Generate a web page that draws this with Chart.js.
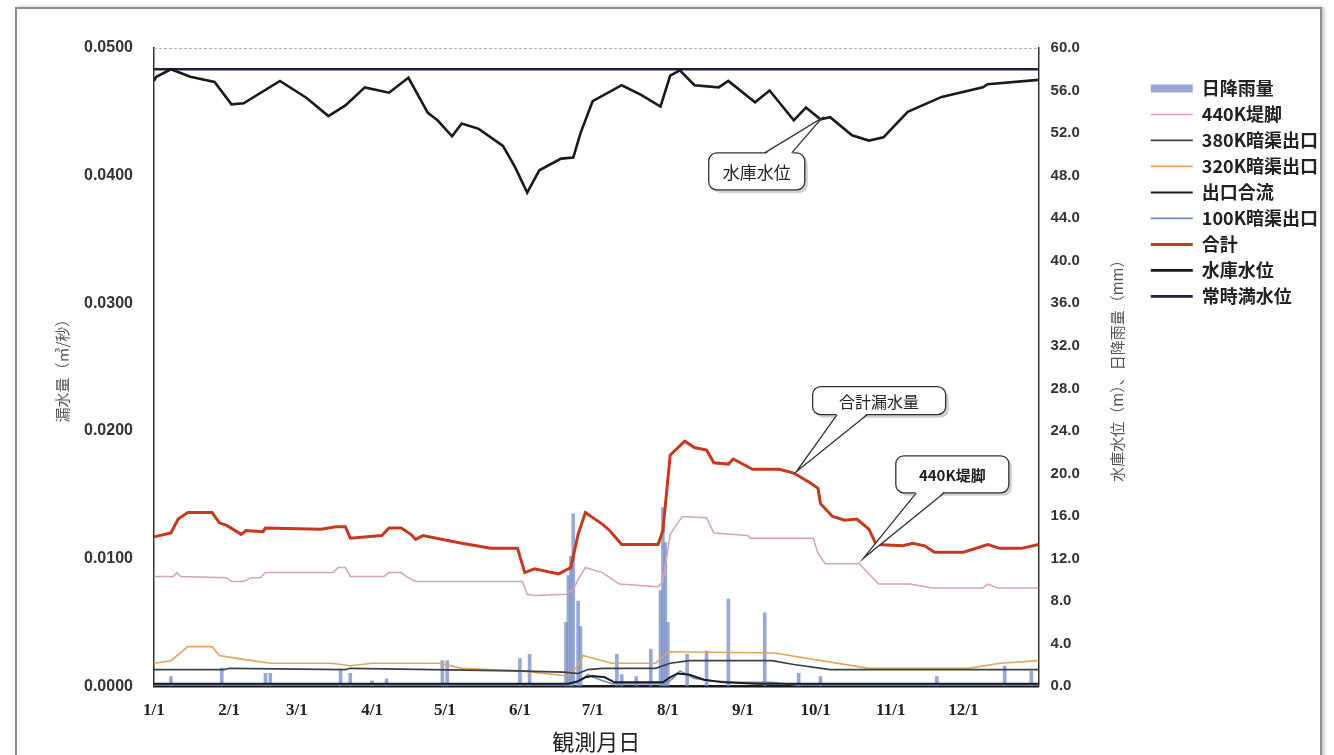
<!DOCTYPE html>
<html>
<head>
<meta charset="utf-8">
<script src="https://cdn.jsdelivr.net/npm/chart.js@4.4.1/dist/chart.umd.min.js"></script>
<style>
html, body { margin: 0; padding: 0; background: #fff; }
#frame { position: absolute; left: 15px; top: 7px; width: 1303px; height: 800px; border: 2px solid #8c8c8c; background: #fff; box-shadow: 2px 0 4px #bbb; }
#wrap { position: absolute; left: 0; top: 0; width: 1334px; height: 755px; }
</style>
</head>
<body>
<div id="frame"></div>
<div id="wrap"><canvas id="chart"></canvas></div>
<script>
// x axis: day of year, ticks at the first of each month
var monthDays = [1, 32, 60, 91, 121, 152, 182, 213, 244, 274, 305, 335];
var monthLabels = ['1/1', '2/1', '3/1', '4/1', '5/1', '6/1', '7/1', '8/1', '9/1', '10/1', '11/1', '12/1'];

// daily rainfall (mm, right axis)
var rainDays = [8, 29, 47, 49, 78, 82, 91, 97, 120, 122, 152, 156, 171, 172, 173, 174, 176, 177, 192, 194, 200, 206, 210, 211, 212, 213, 221, 229, 238, 253, 267, 276, 324, 352, 363];
var rainMm = [0.9, 1.7, 1.2, 1.2, 1.6, 1.2, 0.5, 0.7, 2.4, 2.4, 2.6, 3.0, 6.0, 10.4, 12.2, 16.2, 8.0, 5.6, 3.0, 1.1, 0.9, 3.5, 9.0, 16.8, 13.5, 6.0, 3.0, 3.3, 8.2, 6.9, 1.2, 0.9, 0.9, 1.9, 1.4];

// reservoir level (m, right axis)
var levelDays = [1, 2, 8, 16, 26, 33, 38, 53, 64, 73, 80, 88, 98, 106, 114, 118, 124, 128, 135, 145, 150, 155, 160, 169, 174, 177, 182, 194, 202, 210, 214, 218, 224, 234, 238, 249, 255, 265, 270, 276, 280, 289, 296, 302, 312, 326, 343, 345, 366];
var levelM = [56.9, 57.3, 58.0, 57.3, 56.8, 54.7, 54.8, 56.9, 55.3, 53.6, 54.6, 56.3, 55.8, 57.2, 53.9, 53.2, 51.7, 52.9, 52.4, 50.8, 48.8, 46.4, 48.5, 49.6, 49.7, 52.0, 55.0, 56.5, 55.6, 54.5, 57.4, 57.9, 56.5, 56.3, 56.9, 54.9, 56.0, 53.2, 54.4, 53.3, 53.5, 51.8, 51.3, 51.6, 54.0, 55.4, 56.3, 56.6, 57.0];

var fullDays = [1, 366];
var fullM = [58.0, 58.0];

// leakage (m3/s, left axis)
var totalDays = [1, 8, 11, 15, 25, 28, 31, 37, 39, 46, 47, 70, 76, 80, 82, 95, 98, 103, 107, 109, 112, 128, 140, 151, 154, 158, 168, 173, 176, 179, 186, 189, 194, 209, 211, 214, 220, 224, 229, 232, 238, 240, 248, 259, 265, 272, 275, 276, 281, 286, 291, 296, 299, 310, 314, 319, 323, 335, 345, 350, 359, 366];
var totalQ = [0.0117, 0.0120, 0.0131, 0.0136, 0.0136, 0.0128, 0.0126, 0.0119, 0.0122, 0.0121, 0.0124, 0.0123, 0.0125, 0.0125, 0.0116, 0.0118, 0.0124, 0.0124, 0.0119, 0.0115, 0.0118, 0.0112, 0.0108, 0.0108, 0.0089, 0.0092, 0.0088, 0.0093, 0.0119, 0.0136, 0.0127, 0.0122, 0.0111, 0.0111, 0.0122, 0.0181, 0.0192, 0.0187, 0.0185, 0.0175, 0.0174, 0.0178, 0.0170, 0.0170, 0.0167, 0.0159, 0.0155, 0.0143, 0.0133, 0.0130, 0.0131, 0.0123, 0.0111, 0.0110, 0.0112, 0.0110, 0.0105, 0.0105, 0.0111, 0.0108, 0.0108, 0.0111];

var toeDays = [1, 9, 10.5, 12, 31, 33, 38, 41, 45, 47, 75, 77, 80, 82, 96, 98, 103, 105, 109, 153, 155, 158, 171, 174, 176.5, 179, 186, 193, 209, 211, 214, 219, 229, 232, 246, 247, 273, 275, 278, 292, 300, 313, 322, 343, 345, 349, 366];
var toeQ = [0.0086, 0.0086, 0.0089, 0.0086, 0.0085, 0.0082, 0.0082, 0.0085, 0.0085, 0.0089, 0.0089, 0.0093, 0.0093, 0.0086, 0.0086, 0.0089, 0.0089, 0.0086, 0.0082, 0.0082, 0.0072, 0.0071, 0.0072, 0.0076, 0.0085, 0.0093, 0.0089, 0.0080, 0.0078, 0.0082, 0.0119, 0.0133, 0.0132, 0.0120, 0.0118, 0.0116, 0.0116, 0.0104, 0.0096, 0.0096, 0.0080, 0.0080, 0.0077, 0.0077, 0.0080, 0.0077, 0.0077];

var d380Days = [1, 30, 32, 80, 82, 150, 170, 176, 180, 186, 208, 214, 222, 256, 265, 280, 366];
var d380Q = [0.0013, 0.0013, 0.0014, 0.0013, 0.0014, 0.0012, 0.0011, 0.0010, 0.0013, 0.0014, 0.0014, 0.0018, 0.0020, 0.0020, 0.0017, 0.0013, 0.0013];

var d320Days = [1, 8, 15, 25, 28, 38, 49, 74, 82, 91, 119, 128, 152, 172, 176, 178, 186, 190, 208, 213, 257, 296, 337, 350, 366];
var d320Q = [0.0018, 0.0020, 0.0031, 0.0031, 0.0024, 0.0021, 0.0018, 0.0018, 0.0016, 0.0018, 0.0018, 0.0014, 0.0012, 0.0008, 0.0016, 0.0024, 0.0020, 0.0018, 0.0018, 0.0027, 0.0026, 0.0014, 0.0014, 0.0018, 0.0020];

var outletDays = [1, 172, 176, 179, 182, 187, 191, 211, 214, 217, 222, 228, 236, 250, 366];
var outletQ = [0.0002, 0.0002, 0.0004, 0.0007, 0.0008, 0.0007, 0.0003, 0.0003, 0.0007, 0.0010, 0.0009, 0.0005, 0.0003, 0.0002, 0.0002];

var d100Days = [1, 173, 177, 180, 185, 190, 212, 215, 218, 224, 232, 242, 256, 266, 366];
var d100Q = [0.0001, 0.0001, 0.0004, 0.0009, 0.0005, 0.0002, 0.0002, 0.0006, 0.0012, 0.0006, 0.0004, 0.0003, 0.0003, 0.0001, 0.0001];

function pts(xs, ys) {
    return xs.map(function (x, i) { return { x: x, y: ys[i] }; });
}

var CJK = '"Noto Sans CJK JP", sans-serif';

function line(label, xs, ys, color, width, axis) {
    return {
        type: 'line', label: label, data: pts(xs, ys), yAxisID: axis,
        borderColor: color, backgroundColor: color, borderWidth: width,
        pointRadius: 0, pointStyle: 'line', tension: 0, order: 1
    };
}

// callout labels, placed in data coordinates
var callouts = [
    { text: '水庫水位', axis: 'yR', x: 249.7, y: 48.4, w: 96, h: 37, tipX: 276.5, tipY: 53.4, base: [8, 35], side: 'top', font: '17px ' + CJK },
    { text: '合計漏水量', axis: 'yL', x: 300.2, y: 0.02237, w: 133, h: 28, tipX: 266, tipY: 0.0168, base: [-42, -12], side: 'bottom', font: '16px ' + CJK },
    { text: '440K堤脚', axis: 'yL', x: 330.4, y: 0.0166, w: 113, h: 37, tipX: 293.6, tipY: 0.0100, base: [-36, -8], side: 'bottom', font: 'bold 15px ' + CJK }
];

var decorPlugin = {
    id: 'decor',
    beforeDatasetsDraw: function (chart) {
        var ctx = chart.ctx, a = chart.chartArea;
        ctx.save();
        ctx.strokeStyle = '#b0b0b0';
        ctx.setLineDash([3, 2]);
        ctx.beginPath();
        ctx.moveTo(a.left, a.top + 0.5);
        ctx.lineTo(a.right, a.top + 0.5);
        ctx.stroke();
        ctx.restore();
    },
    afterDatasetsDraw: function (chart) {
        var ctx = chart.ctx;
        var xs = chart.scales.x;
        callouts.forEach(function (c) {
            var ys = chart.scales[c.axis];
            var cx = xs.getPixelForValue(c.x), cy = ys.getPixelForValue(c.y);
            var l = cx - c.w / 2, t = cy - c.h / 2;
            var tx = xs.getPixelForValue(c.tipX), ty = ys.getPixelForValue(c.tipY);
            var ey = c.side === 'top' ? t : t + c.h;
            var inset = c.side === 'top' ? 1.5 : -1.5;
            ctx.save();
            ctx.fillStyle = '#cfcfcf';
            ctx.beginPath();
            ctx.roundRect(l + 3, t + 3, c.w, c.h, 8);
            ctx.fill();
            ctx.fillStyle = '#fff';
            ctx.strokeStyle = '#333';
            ctx.lineWidth = 1.3;
            ctx.beginPath();
            ctx.roundRect(l, t, c.w, c.h, 8);
            ctx.fill();
            ctx.stroke();
            ctx.beginPath();
            ctx.moveTo(cx + c.base[0], ey + inset);
            ctx.lineTo(tx, ty);
            ctx.lineTo(cx + c.base[1], ey + inset);
            ctx.closePath();
            ctx.fill();
            ctx.beginPath();
            ctx.moveTo(cx + c.base[0], ey);
            ctx.lineTo(tx, ty);
            ctx.lineTo(cx + c.base[1], ey);
            ctx.stroke();
            ctx.fillStyle = '#222';
            ctx.font = c.font;
            ctx.textAlign = 'center';
            ctx.textBaseline = 'middle';
            ctx.fillText(c.text, cx, cy + 1);
            ctx.restore();
        });
    },
    afterDraw: function (chart) {
        // right axis title reads bottom-to-top like the left one
        var ctx = chart.ctx, s = chart.scales.yR, a = chart.chartArea;
        ctx.save();
        ctx.translate(s.right - 25, (a.top + a.bottom) / 2);
        ctx.rotate(-Math.PI / 2);
        ctx.fillStyle = '#555';
        ctx.font = '15px ' + CJK;
        ctx.textAlign = 'center';
        ctx.textBaseline = 'middle';
        ctx.fillText('水庫水位（m）、日降雨量（mm）', 0, 0);
        ctx.restore();
    }
};

new Chart(document.getElementById('chart'), {
    data: {
        datasets: [
            {
                type: 'bar', label: '日降雨量', data: pts(rainDays, rainMm), yAxisID: 'yR',
                backgroundColor: 'rgba(118,140,200,0.75)', borderWidth: 0,
                barThickness: 3, grouped: false, pointStyle: 'rect', order: 5
            },
            line('440K堤脚', toeDays, toeQ, '#d8a3ab', 1.5, 'yL'),
            line('380K暗渠出口', d380Days, d380Q, '#3a3f48', 1.6, 'yL'),
            line('320K暗渠出口', d320Days, d320Q, '#e3a55a', 1.6, 'yL'),
            line('出口合流', outletDays, outletQ, '#1b1d22', 2, 'yL'),
            line('100K暗渠出口', d100Days, d100Q, '#6d8fbf', 1.6, 'yL'),
            line('合計', totalDays, totalQ, '#c9371d', 3, 'yL'),
            line('水庫水位', levelDays, levelM, '#1a1a1a', 2.6, 'yR'),
            line('常時満水位', fullDays, fullM, '#1c2140', 2.6, 'yR')
        ]
    },
    options: {
        responsive: true,
        maintainAspectRatio: false,
        animation: false,
        layout: { padding: { left: 53, right: 6, top: 48, bottom: 0 } },
        plugins: {
            tooltip: { enabled: false },
            legend: {
                position: 'right',
                align: 'start',
                title: { display: true, text: '', padding: { top: 9, bottom: 0 } },
                labels: {
                    usePointStyle: true,
                    pointStyleWidth: 42,
                    boxHeight: 8,
                    padding: 8,
                    color: '#222',
                    font: { family: CJK, size: 18, weight: 'bold', lineHeight: 1.05 },
                    sort: function (a, b) { return a.datasetIndex - b.datasetIndex; }
                }
            }
        },
        scales: {
            x: {
                type: 'linear', min: 1, max: 366, position: 'bottom', offset: false,
                afterBuildTicks: function (scale) {
                    scale.ticks = monthDays.map(function (d) { return { value: d }; });
                },
                ticks: {
                    autoSkip: false, maxRotation: 0, color: '#222', padding: 6,
                    font: { family: '"Liberation Serif", serif', size: 17, weight: 'bold' },
                    callback: function (v) { return monthLabels[monthDays.indexOf(v)]; }
                },
                grid: { display: false, offset: false },
                border: { color: '#1a1a1a', width: 2.5 },
                title: { display: true, text: '観測月日', color: '#222', font: { family: CJK, size: 22 }, padding: { top: 2, bottom: 0 } }
            },
            yL: {
                position: 'left', min: 0, max: 0.05,
                ticks: {
                    stepSize: 0.01, color: '#333', padding: 13,
                    font: { family: '"Liberation Sans", Arial, sans-serif', size: 16, weight: 'bold' },
                    callback: function (v) { return v.toFixed(4); }
                },
                grid: { display: false },
                border: { color: '#333', width: 1.5 },
                title: { display: true, text: '漏水量（㎥/秒）', color: '#555', font: { family: CJK, size: 15 }, padding: { top: 0, bottom: 0 } }
            },
            yR: {
                position: 'right', min: 0, max: 60,
                afterFit: function (scale) { scale.width += 59; },
                ticks: {
                    stepSize: 4, color: '#333', padding: 4,
                    font: { family: '"Liberation Sans", Arial, sans-serif', size: 15, weight: 'bold' },
                    callback: function (v) { return v.toFixed(1); }
                },
                grid: { display: false },
                border: { color: '#333', width: 1.5 }
            }
        }
    },
    plugins: [decorPlugin]
});
</script>
</body>
</html>
